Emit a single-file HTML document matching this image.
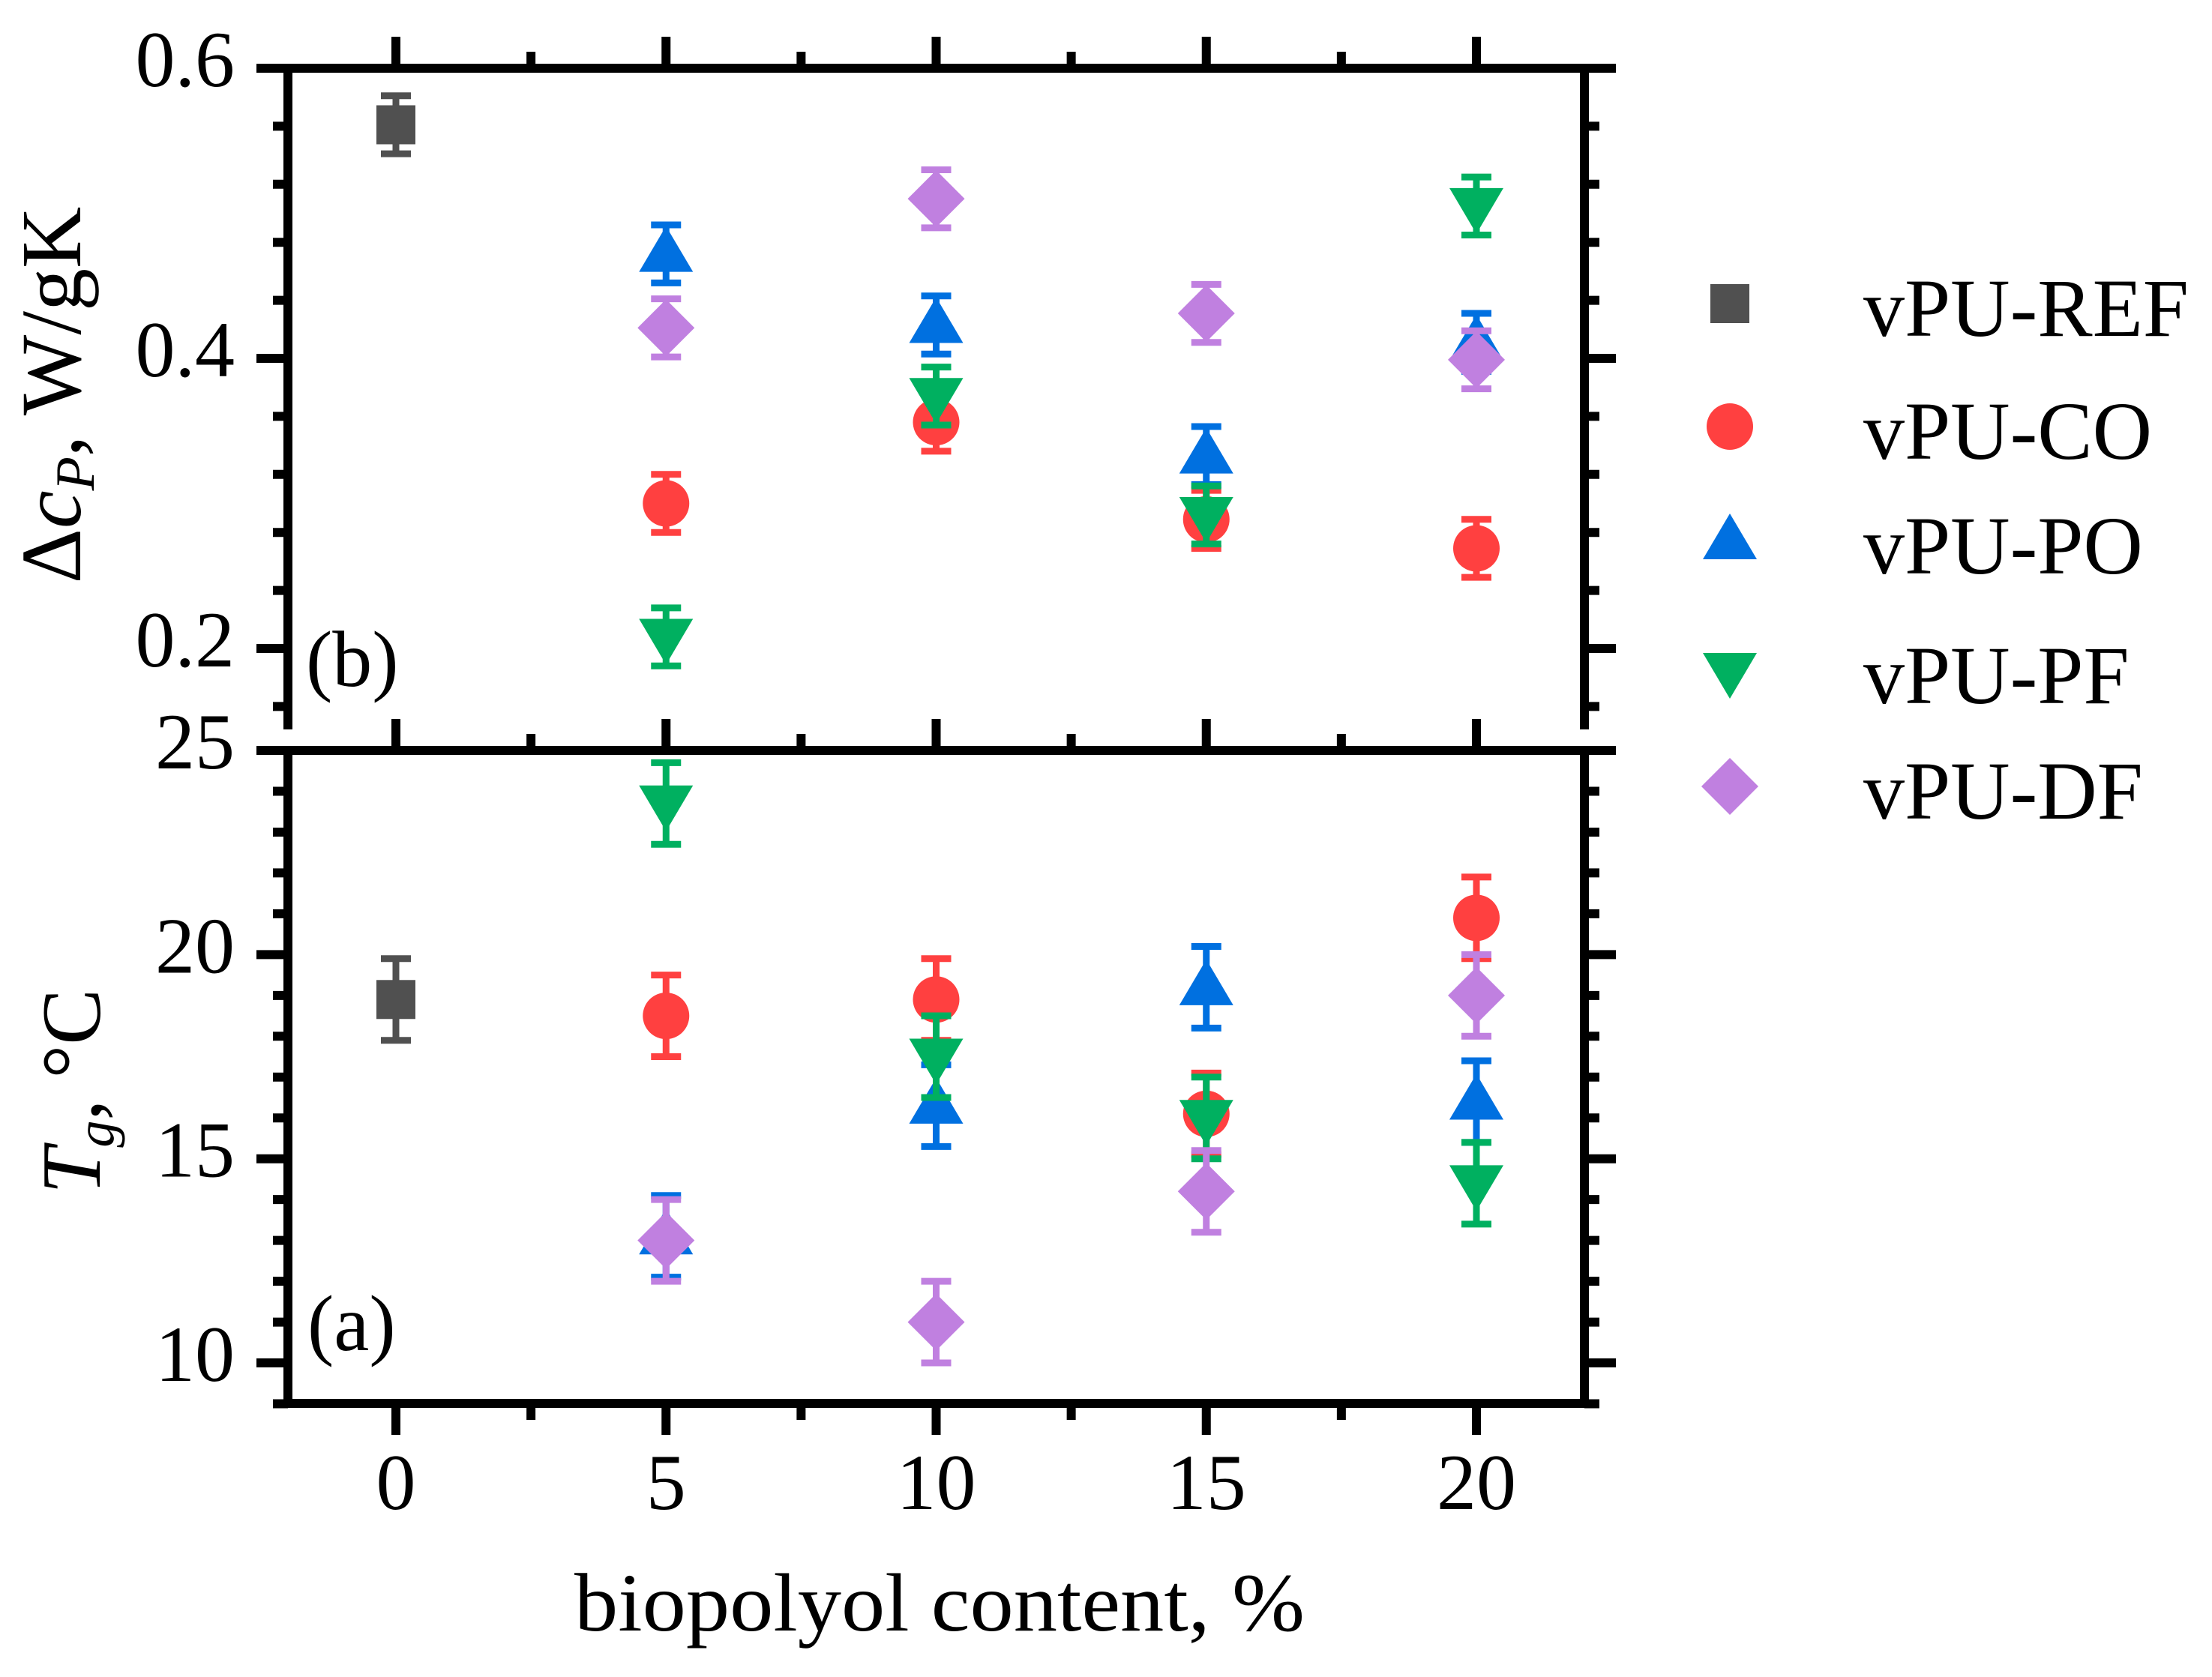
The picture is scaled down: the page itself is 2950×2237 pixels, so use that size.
<!DOCTYPE html>
<html><head><meta charset="utf-8"><style>
html,body{margin:0;padding:0;background:#fff;}
svg{display:block;font-family:"Liberation Serif",serif;}
</style></head><body>
<svg id="chart" width="2950" height="2237" viewBox="0 0 2950 2237" xmlns="http://www.w3.org/2000/svg">
<g id="axes"></g>
<g id="marks"></g>
<g id="legend"></g>
<text x="766" y="2175" font-size="110" textLength="974" lengthAdjust="spacingAndGlyphs">biopolyol content, %</text>
<text transform="translate(107,527) rotate(-90)" font-size="114" text-anchor="middle">Δ<tspan font-style="italic">c</tspan><tspan font-style="italic" font-size="74" dy="18">P</tspan><tspan dy="-18">, W/gK</tspan></text>
<text transform="translate(133,1456) rotate(-90)" font-size="112" text-anchor="middle"><tspan font-style="italic">T</tspan><tspan font-style="italic" font-size="72" dy="18">g</tspan><tspan dy="-18">, °C</tspan></text>
<text x="408" y="915" font-size="106">(b)</text>
<text x="410" y="1801" font-size="106">(a)</text>
</svg>
<script>
const xValues = [0, 5, 10, 15, 20];
const seriesNames = ["vPU-REF", "vPU-CO", "vPU-PO", "vPU-PF", "vPU-DF"];
const seriesX = [[0], [5,10,15,20], [5,10,15,20], [5,10,15,20], [5,10,15,20]];
const cpValues = [[0.561], [0.300,0.356,0.289,0.269], [0.472,0.423,0.333,0.411], [0.208,0.374,0.292,0.505], [0.421,0.510,0.431,0.399]];
const cpErrors = [[0.02], [0.02,0.02,0.02,0.02], [0.02,0.02,0.02,0.02], [0.02,0.02,0.02,0.02], [0.02,0.02,0.02,0.02]];
const tgValues = [[18.9], [18.5,18.9,16.1,20.9], [13.1,16.3,19.2,16.4], [23.7,17.5,16.0,14.4], [13.0,11.0,14.2,19.0]];
const tgErrors = [[1.0], [1.0,1.0,1.0,1.0], [1.0,1.0,1.0,1.0], [1.0,1.0,1.0,1.0], [1.0,1.0,1.0,1.0]];
const cpTicks = [0.6, 0.4, 0.2];
const cpTickLabels = ["0.6", "0.4", "0.2"];
const tgTicks = [25, 20, 15, 10];
const tgTickLabels = ["25", "20", "15", "10"];
const xTickLabels = ["0", "5", "10", "15", "20"];

const colors = ["#505050", "#ff4040", "#0070e0", "#00b060", "#c080e0"];
const shapes = ["square", "circle", "up", "down", "diamond"];
const NS = "http://www.w3.org/2000/svg";
const X = v => 528 + (v - 0) * 72.05;
const YT = v => 91 + (0.6 - v) * 1935;
const YB = v => 1001 + (25 - v) * 54.47;
const L = 384, R = 2113;
const TT = 91, TB = 967, BT = 1001, BB = 1872;

function mk(tag, attrs, parent) {
  const e = document.createElementNS(NS, tag);
  for (const k in attrs) e.setAttribute(k, attrs[k]);
  parent.appendChild(e);
  return e;
}
const axes = document.getElementById("axes");
const marks = document.getElementById("marks");
const legend = document.getElementById("legend");

function line(x1,y1,x2,y2,w,name){
  const l = mk("line",{x1,y1,x2,y2,stroke:"#000","stroke-width":w,"stroke-linecap":"square"},axes);
  
  
}
line(L,TT,R,TT,12,"top-panel-top-spine");
line(L,TT,L,TB,12,"top-panel-left-spine");
line(R,TT,R,TB,12,"top-panel-right-spine");
line(L,BT,R,BT,12,"bottom-panel-top-spine");
line(L,BT,L,BB,12,"bottom-panel-left-spine");
line(R,BT,R,BB,12,"bottom-panel-right-spine");
line(L,BB,R,BB,12,"bottom-panel-bottom-spine");

const xMinor = [2.5, 7.5, 12.5, 17.5];
xValues.forEach((v,i)=>{
  const x = X(v);
  line(x,TT-6,x,TT-36,12,"x-major-tick-top");
  line(x,BT-6,x,BT-36,12,"x-major-tick-mid");
  line(x,BB+6,x,BB+36,12,"x-major-tick-bottom");
  const t = mk("text",{x:x,y:2013,"font-size":106,"text-anchor":"middle"},axes);
  t.textContent = xTickLabels[i];
  
  
});
xMinor.forEach(v=>{
  const x = X(v);
  line(x,TT-6,x,TT-16,12,"x-minor-tick-top");
  line(x,BT-6,x,BT-16,12,"x-minor-tick-mid");
  line(x,BB+6,x,BB+16,12,"x-minor-tick-bottom");
});
for (let k = 0; k <= 11; k++) {
  const v = 0.6 - k * 0.04;
  const y = YT(v);
  if (y > TB + 2) break;
  const major = (k % 5 === 0);
  const len = major ? 36 : 14;
  line(L-6,y,L-len,y,12,"top-y-tick-left");
  line(R+6,y,R+len,y,12,"top-y-tick-right");
}
cpTicks.forEach((v,i)=>{
  const t = mk("text",{x:313,y:YT(v)+24,"font-size":106,"text-anchor":"end"},axes);
  t.textContent = cpTickLabels[i];
  
  
});
for (let v = 25; v >= 9; v -= 1) {
  const y = YB(v);
  const major = (v % 5 === 0);
  const len = major ? 36 : 14;
  line(L-6,y,L-len,y,12,"bottom-y-tick-left");
  line(R+6,y,R+len,y,12,"bottom-y-tick-right");
}
tgTicks.forEach((v,i)=>{
  const t = mk("text",{x:313,y:YB(v)+24,"font-size":106,"text-anchor":"end"},axes);
  t.textContent = tgTickLabels[i];
  
  
});

function marker(shape, cx, cy, color, parent) {
  let e;
  if (shape === "square") e = mk("rect",{x:cx-26,y:cy-26,width:52,height:52,fill:color},parent);
  else if (shape === "circle") e = mk("circle",{cx:cx,cy:cy,r:31,fill:color},parent);
  else if (shape === "up") e = mk("polygon",{points:`${cx-36},${cy+24} ${cx+36},${cy+24} ${cx},${cy-37}`,fill:color},parent);
  else if (shape === "down") e = mk("polygon",{points:`${cx-36},${cy-24} ${cx+36},${cy-24} ${cx},${cy+37}`,fill:color},parent);
  else e = mk("polygon",{points:`${cx},${cy-38} ${cx+38},${cy} ${cx},${cy+38} ${cx-38},${cy}`,fill:color},parent);
  return e;
}
function errbar(cx, y1, y2, color, parent) {
  const g = mk("g",{stroke:color,"stroke-width":9,fill:"none"},parent);
  mk("line",{x1:cx,y1:y1,x2:cx,y2:y2},g);
  mk("line",{x1:cx-20,y1:y1,x2:cx+20,y2:y1},g);
  mk("line",{x1:cx-20,y1:y2,x2:cx+20,y2:y2},g);
  return g;
}
seriesNames.forEach((name,s)=>{
  const g = mk("g",{},marks);
  
  
  seriesX[s].forEach((xv,i)=>{
    const cx = X(xv);
    const m1 = marker(shapes[s], cx, YT(cpValues[s][i]), colors[s], g);
    
    
    const e1 = errbar(cx, YT(cpValues[s][i]+cpErrors[s][i]), YT(cpValues[s][i]-cpErrors[s][i]), colors[s], g);
    
    
    const m2 = marker(shapes[s], cx, YB(tgValues[s][i]), colors[s], g);
    
    
    const e2 = errbar(cx, YB(tgValues[s][i]+tgErrors[s][i]), YB(tgValues[s][i]-tgErrors[s][i]), colors[s], g);
    
    
  });
  const ly = [405, 569, 722, 895, 1049][s];
  const lg = mk("g",{},legend);
  
  
  marker(shapes[s], 2307, ly, colors[s], lg);
  const t = mk("text",{x:2485,y:ly+43,"font-size":110},lg);
  t.textContent = name;
});
</script>
</body></html>
